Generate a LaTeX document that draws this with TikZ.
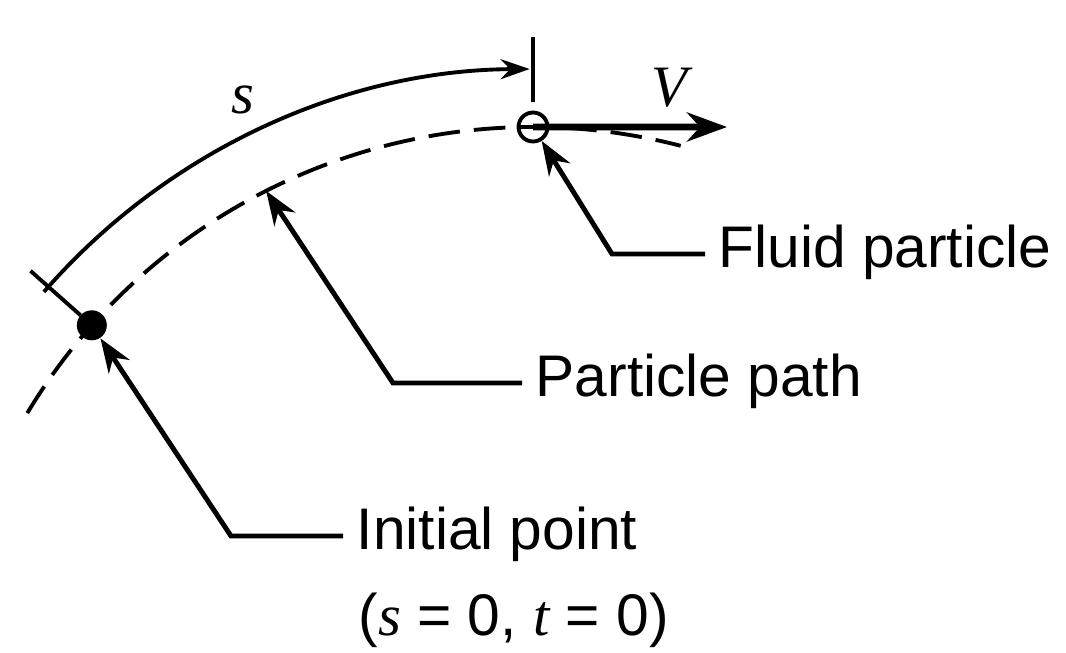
\documentclass[tikz,border=0pt]{standalone}
\usepackage{fontspec}
\setmainfont{Liberation Sans}
\newfontfamily\varfont{Liberation Serif}
\usetikzlibrary{arrows.meta}
\newcommand{\var}[1]{{\varfont\itshape #1}}

\begin{document}
\begin{tikzpicture}[scale=1,
  lbl/.style={anchor=west,inner xsep=0.13cm,inner ysep=0pt,text height=0.78em,text depth=0pt,font=\fontsize{16.7}{20}\selectfont},
  lead/.style={line width=1.4pt,-{Stealth[length=3.4mm,width=2.5mm]}},
  thin/.style={line width=1.1pt}]

\useasboundingbox (0,0) rectangle (10.66,6.52);
\coordinate (c) at (5.33,-0.65);

% particle path
\draw[thin,dash pattern=on 9pt off 4pt] ([shift={(149:5.9)}]c) arc[start angle=149,end angle=75.5,radius=5.9];

\node[circle,fill=black,inner sep=0pt,minimum size=0.3cm] (start) at ([shift={(138.4:5.9)}]c) {};
\node[circle,draw,line width=1.1pt,inner sep=0pt,minimum size=0.29cm] (fp) at ([shift={(90:5.9)}]c) {};
\coordinate (onpath) at ([shift={(116.9:5.9)}]c);

% distance s
\draw[thin] ([shift={(138.4:6.05)}]c) -- ([shift={(138.4:6.72)}]c);
\draw[thin] ([shift={(90:6.15)}]c) -- ([shift={(90:6.8)}]c);
\draw[thin,-{Stealth[length=2.9mm,width=2mm]}] ([shift={(139:6.48)}]c) arc[start angle=139,end angle=90.3,radius=6.48];
\node[font=\fontsize{16.7}{20}\selectfont] (slbl) at (2.43,5.52) {\var{s}};

% velocity
\coordinate (vtip) at (7.27,5.25);
\draw[line width=1.9pt,-{Stealth[length=4mm,width=2.9mm]}] (fp.center) -- (vtip);
\node[font=\fontsize{16.7}{20}\selectfont] (vlbl) at (6.69,5.64) {\var{V}};

\node[lbl] (fluid) at (7.05,3.98) {Fluid particle};
\node[lbl] (ppath) at (5.22,2.69) {Particle path};
\node[lbl] (init) at (3.43,1.16) {Initial point};
\node[anchor=base west,inner sep=0pt,font=\fontsize{16.7}{20}\selectfont] (initcond) at (3.58,0.17) {(\var{s} = 0, \var{t} = 0)};

\coordinate (fbend) at (6.12,3.98);
\draw[lead] (fluid.west) -- (fbend) -- (fp);
\coordinate (pbend) at (3.93,2.69);
\draw[lead] (ppath.west) -- (pbend) -- (onpath);
\coordinate (ibend) at (2.31,1.16);
\draw[lead] (init.west) -- (ibend) -- (start);

\end{tikzpicture}
\end{document}
